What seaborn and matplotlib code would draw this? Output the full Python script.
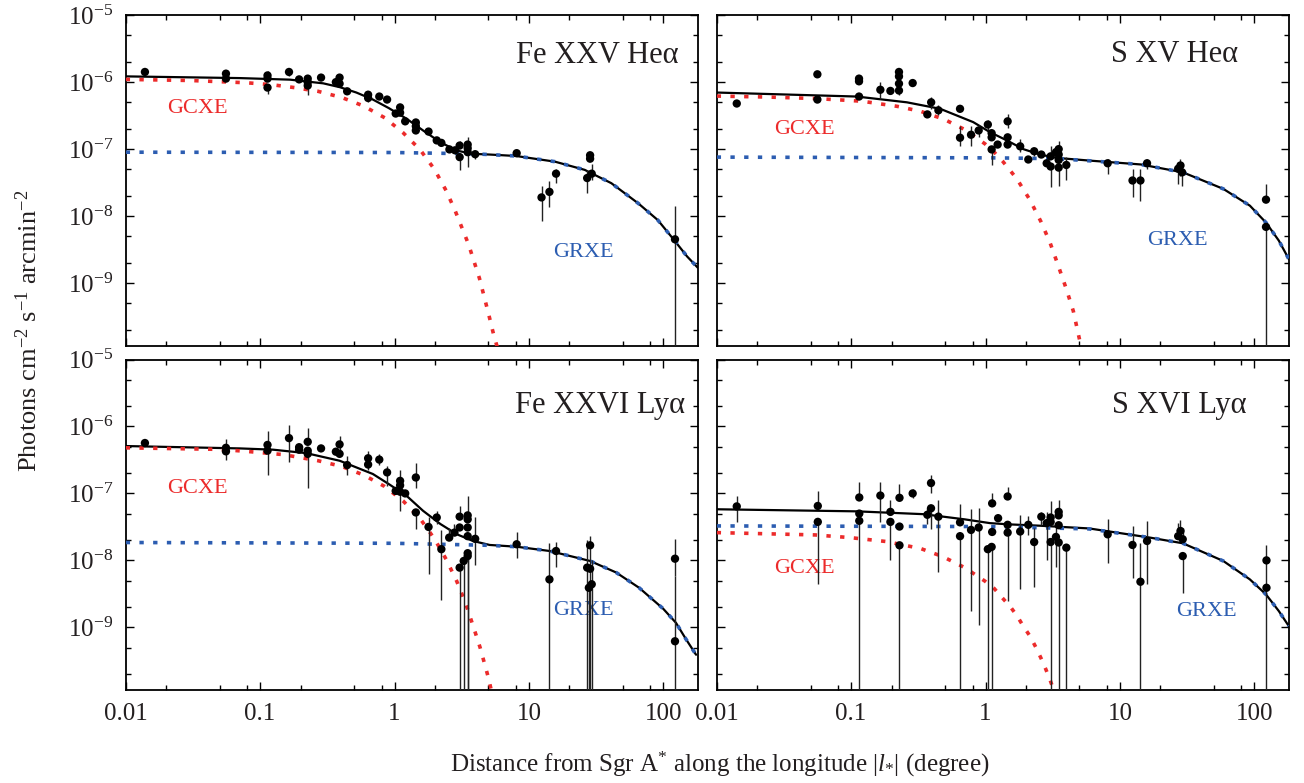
import numpy as np
import pandas as pd
import matplotlib
matplotlib.use("Agg")
import matplotlib.pyplot as plt
import seaborn as sns
from matplotlib.ticker import FixedLocator, FixedFormatter, NullFormatter

# ---------------- data ----------------
# Fe XXV He-alpha
fe25_l = [0.0139, 0.0557, 0.0557, 0.1135, 0.1135, 0.1135, 0.164, 0.195, 0.226, 0.226, 0.226,
          0.284, 0.366, 0.39, 0.39, 0.444, 0.636, 0.636, 0.77, 0.88, 1.02, 1.1, 1.1, 1.2,
          1.44, 1.44, 1.44, 1.79, 2.06, 2.23, 2.56, 2.82, 3.05, 3.05, 3.5, 3.5, 3.5, 3.98,
          8.1, 12.4, 14.2, 15.9, 27.1, 28.5, 28.5, 29.3, 122]
fe25_v = [1.42e-6, 1.34e-6, 1.13e-6, 1.26e-6, 1.13e-6, 8.3e-7, 1.42e-6, 1.1e-6, 1.13e-6, 1.0e-6, 8.9e-7,
          1.17e-6, 1.0e-6, 9.5e-7, 1.17e-6, 7.3e-7, 6.5e-7, 5.8e-7, 6.1e-7, 5.5e-7, 3.4e-7, 4.2e-7, 3.5e-7, 2.6e-7,
          2.5e-7, 2.2e-7, 1.9e-7, 1.83e-7, 1.35e-7, 1.24e-7, 9.9e-8, 9.6e-8, 1.13e-7, 7.6e-8, 1.17e-7, 1.03e-7, 9.0e-8, 8.4e-8,
          8.7e-8, 1.9e-8, 2.3e-8, 4.3e-8, 3.7e-8, 8.1e-8, 7.2e-8, 4.3e-8, 4.5e-9]
fe25_lo = [1.42e-6, 1.34e-6, 1.13e-6, 1.26e-6, 1.13e-6, 6.7e-7, 1.25e-6, 1.1e-6, 1.13e-6, 1.0e-6, 6.5e-7,
           1.17e-6, 1.0e-6, 9.5e-7, 1.17e-6, 7.3e-7, 6.5e-7, 5.0e-7, 6.1e-7, 5.5e-7, 3.4e-7, 4.2e-7, 3.5e-7, 2.6e-7,
           2.5e-7, 2.2e-7, 1.9e-7, 1.83e-7, 1.35e-7, 1.24e-7, 9.9e-8, 9.6e-8, 1.13e-7, 4.8e-8, 1.17e-7, 1.03e-7, 5.4e-8, 7.0e-8,
           8.7e-8, 8.5e-9, 1.36e-8, 3.1e-8, 2.25e-8, 8.1e-8, 7.2e-8, 3.5e-8, 1e-12]
fe25_hi = [1.42e-6, 1.34e-6, 1.13e-6, 1.45e-6, 1.13e-6, 8.3e-7, 1.6e-6, 1.1e-6, 1.13e-6, 1.0e-6, 8.9e-7,
           1.17e-6, 1.0e-6, 9.5e-7, 1.17e-6, 7.3e-7, 6.5e-7, 5.8e-7, 6.1e-7, 5.5e-7, 3.4e-7, 4.2e-7, 3.5e-7, 2.6e-7,
           2.5e-7, 2.2e-7, 1.9e-7, 1.83e-7, 1.35e-7, 1.24e-7, 9.9e-8, 9.6e-8, 1.3e-7, 7.6e-8, 1.5e-7, 1.03e-7, 9.0e-8, 9.5e-8,
           8.7e-8, 2.85e-8, 3.4e-8, 5.1e-8, 4.8e-8, 8.1e-8, 7.2e-8, 6.0e-8, 1.4e-8]
fe25_gc_l = [0.01, 0.03, 0.079, 0.12, 0.18, 0.27, 0.405, 0.59, 0.845, 1.16, 1.55, 1.98, 2.42, 2.83, 3.55, 4.28, 5.0, 5.5, 5.9]
fe25_gc_v = [1.1e-6, 1.06e-6, 9.8e-7, 9.2e-7, 8.3e-7, 7.3e-7, 5.9e-7, 4.4e-7, 2.94e-7, 1.75e-7, 9.8e-8, 5.0e-8, 2.4e-8,
             1.19e-8, 3.8e-9, 1.18e-9, 3.5e-10, 1.6e-10, 1.0e-10]
fe25_gr_l = [0.01, 1, 4, 8, 15.6, 26, 41, 65, 91, 120, 150, 180]
fe25_gr_v = [9.0e-8, 8.9e-8, 8.5e-8, 7.9e-8, 6.5e-8, 4.9e-8, 3.1e-8, 1.55e-8, 8.7e-9, 4.4e-9, 2.5e-9, 1.7e-9]
fe25_tot_l = [0.01, 0.071, 0.167, 0.295, 0.393, 0.52, 0.69, 0.906, 1.23, 1.63, 2.19, 2.9, 3.83, 5.1, 8, 15.6, 26, 41,
              65, 91, 120, 150, 180]
fe25_tot_v = [1.22e-6, 1.15e-6, 1.09e-6, 9.6e-7, 8.4e-7, 7.0e-7, 5.5e-7, 4.1e-7, 2.84e-7, 1.9e-7, 1.27e-7, 9.5e-8,
              8.5e-8, 8.3e-8, 7.9e-8, 6.5e-8, 4.9e-8, 3.1e-8, 1.55e-8, 8.7e-9, 4.4e-9, 2.5e-9, 1.7e-9]

# S XV He-alpha
s15_l = [0.0141, 0.0561, 0.0561, 0.1145, 0.1145, 0.1145, 0.165, 0.196, 0.227, 0.227, 0.227, 0.227, 0.287,
         0.369, 0.394, 0.446, 0.646, 0.646, 0.78, 0.889, 1.04, 1.11, 1.11, 1.11, 1.23, 1.46, 1.46, 1.46,
         1.81, 2.08, 2.3, 2.6, 2.85, 3.05, 3.05, 3.34, 3.5, 3.5, 3.5, 3.5, 3.99, 8.1, 12.4, 14.2, 15.9,
         27.1, 28.2, 29.0, 122, 122]
s15_v = [4.8e-7, 1.31e-6, 5.5e-7, 1.13e-6, 1.03e-6, 6.1e-7, 7.7e-7, 7.4e-7, 1.42e-6, 1.22e-6, 9.5e-7, 7.5e-7, 9.7e-7,
         3.3e-7, 5.0e-7, 3.8e-7, 4.0e-7, 1.48e-7, 1.64e-7, 1.9e-7, 2.33e-7, 1.73e-7, 1.5e-7, 9.9e-8, 1.17e-7, 2.6e-7, 1.5e-7, 1.17e-7,
         1.1e-7, 7.0e-8, 9.3e-8, 8.3e-8, 6.15e-8, 7.8e-8, 5.5e-8, 9.0e-8, 1.0e-7, 8.3e-8, 6.9e-8, 5.3e-8, 5.8e-8, 6.15e-8,
         3.4e-8, 3.4e-8, 6.15e-8, 5.1e-8, 5.7e-8, 4.5e-8, 1.76e-8, 6.9e-9]
s15_lo = [4.8e-7, 1.31e-6, 5.5e-7, 1.13e-6, 1.03e-6, 6.1e-7, 5.7e-7, 7.4e-7, 1.42e-6, 1.22e-6, 9.5e-7, 6.5e-7, 9.7e-7,
          3.3e-7, 4.0e-7, 3.2e-7, 4.0e-7, 1.1e-7, 1.1e-7, 1.5e-7, 1.9e-7, 1.73e-7, 1.5e-7, 5.7e-8, 1.17e-7, 2.1e-7, 1.5e-7, 1.17e-7,
          9.0e-8, 7.0e-8, 8.0e-8, 8.3e-8, 6.15e-8, 7.8e-8, 2.7e-8, 9.0e-8, 1.0e-7, 8.3e-8, 6.9e-8, 2.85e-8, 3.5e-8, 4.2e-8,
          1.9e-8, 1.7e-8, 5.0e-8, 3.0e-8, 4.0e-8, 2.8e-8, 1.76e-8, 1e-12]
s15_hi = [4.8e-7, 1.31e-6, 5.5e-7, 1.3e-6, 1.03e-6, 6.1e-7, 1.0e-6, 7.4e-7, 1.6e-6, 1.22e-6, 9.5e-7, 7.5e-7, 9.7e-7,
          3.3e-7, 6.0e-7, 4.5e-7, 4.0e-7, 2.2e-7, 2.2e-7, 2.3e-7, 2.7e-7, 1.73e-7, 1.5e-7, 9.9e-8, 1.17e-7, 3.4e-7, 1.5e-7, 1.17e-7,
          1.4e-7, 7.0e-8, 1.05e-7, 8.3e-8, 6.15e-8, 1.1e-7, 5.5e-8, 9.0e-8, 1.3e-7, 8.3e-8, 6.9e-8, 5.3e-8, 7.5e-8, 7.2e-8,
          5.1e-8, 5.1e-8, 7.2e-8, 6.5e-8, 7.0e-8, 5.5e-8, 3.0e-8, 6.9e-9]
s15_gc_l = [0.01, 0.0236, 0.054, 0.12, 0.221, 0.33, 0.49, 0.70, 0.99, 1.16, 1.34, 1.71, 2.14, 2.58, 3.02, 3.48, 3.97,
            4.5, 4.91, 5.15]
s15_gc_v = [6.2e-7, 6.0e-7, 5.7e-7, 5.2e-7, 4.35e-7, 3.66e-7, 2.8e-7, 1.96e-7, 1.2e-7, 9.0e-8, 6.6e-8, 3.6e-8, 1.74e-8,
            8.3e-9, 4.0e-9, 1.8e-9, 8.4e-10, 3.8e-10, 1.7e-10, 1.1e-10]
s15_gr_l = [0.01, 1.2, 3.37, 5.9, 14.3, 29.4, 58.7, 92.6, 122, 152, 180]
s15_gr_v = [7.6e-8, 7.4e-8, 7.2e-8, 6.7e-8, 5.9e-8, 4.5e-8, 2.55e-8, 1.43e-8, 8.0e-9, 4.3e-9, 2.3e-9]
s15_tot_l = [0.01, 0.11, 0.26, 0.46, 0.81, 1.08, 1.44, 1.91, 2.54, 3.37, 5.9, 14.3, 29.4, 58.7, 92.6, 122, 152, 180]
s15_tot_v = [7.0e-7, 6.1e-7, 5.0e-7, 4.0e-7, 2.53e-7, 1.79e-7, 1.35e-7, 1.0e-7, 8.3e-8, 7.4e-8, 6.75e-8, 5.9e-8,
             4.5e-8, 2.55e-8, 1.43e-8, 8.0e-9, 4.3e-9, 2.3e-9]

# Fe XXVI Ly-alpha
fe26_l = [0.0139, 0.0557, 0.0557, 0.1135, 0.1135, 0.164, 0.195, 0.195, 0.226, 0.226, 0.226, 0.284, 0.366, 0.39,
          0.39, 0.444, 0.636, 0.636, 0.77, 0.88, 1.02, 1.1, 1.1, 1.1, 1.2, 1.44, 1.44, 1.79, 2.06, 2.23, 2.55,
          2.79, 3.05, 3.05, 3.05, 3.27, 3.5, 3.5, 3.5, 3.5, 3.5, 3.5, 3.98, 8.1, 14.2, 15.9, 27.1, 27.9, 28.5,
          28.5, 29.3, 122, 122]
fe26_v = [5.66e-7, 4.8e-7, 4.25e-7, 5.3e-7, 4.35e-7, 6.7e-7, 4.9e-7, 4.5e-7, 5.9e-7, 4.35e-7, 3.9e-7, 4.7e-7, 4.2e-7, 3.9e-7,
          5.4e-7, 2.65e-7, 3.35e-7, 2.7e-7, 3.2e-7, 2.06e-7, 1.09e-7, 1.54e-7, 1.32e-7, 1.06e-7, 1.0e-7, 1.73e-7, 5.2e-8,
          3.16e-8, 4.37e-8, 1.47e-8, 2.19e-8, 2.6e-8, 4.5e-8, 3.1e-8, 7.8e-9, 9.8e-9, 4.7e-8, 4.1e-8, 3.1e-8, 2.3e-8,
          1.28e-8, 1.16e-8, 2.1e-8, 1.74e-8, 5.2e-9, 1.38e-8, 7.8e-9, 3.9e-9, 1.68e-8, 7.5e-9, 4.4e-9, 1.06e-8, 6.2e-10]
fe26_lo = [5.66e-7, 4.8e-7, 3.2e-7, 5.3e-7, 1.9e-7, 2.9e-7, 4.9e-7, 4.5e-7, 5.9e-7, 4.35e-7, 1.2e-7, 4.7e-7, 4.2e-7, 3.9e-7,
           4.5e-7, 1.9e-7, 3.35e-7, 2.2e-7, 2.7e-7, 1.3e-7, 1.09e-7, 1.54e-7, 1.32e-7, 5.5e-8, 1.0e-7, 1.2e-7, 2.9e-8,
           6.3e-9, 3.5e-8, 2.6e-9, 2.19e-8, 2.6e-8, 4.5e-8, 3.1e-8, 1e-12, 1e-12, 4.7e-8, 4.1e-8, 3.1e-8, 2.3e-8,
           1e-12, 1e-12, 8.4e-9, 1.1e-8, 1e-12, 8.0e-9, 1e-12, 1e-12, 1e-12, 7.5e-9, 1e-12, 5.8e-9, 1e-12]
fe26_hi = [5.66e-7, 6.4e-7, 4.25e-7, 8.6e-7, 4.35e-7, 1.05e-6, 4.9e-7, 4.5e-7, 9.4e-7, 4.35e-7, 3.9e-7, 4.7e-7, 4.2e-7, 3.9e-7,
           7.3e-7, 3.6e-7, 4.35e-7, 2.7e-7, 3.9e-7, 2.6e-7, 1.09e-7, 2.2e-7, 1.32e-7, 1.06e-7, 1.0e-7, 2.8e-7, 5.2e-8,
           4.4e-8, 5.5e-8, 2.8e-8, 3.0e-8, 3.5e-8, 6.6e-8, 3.1e-8, 7.8e-9, 9.8e-9, 9.3e-8, 4.1e-8, 3.1e-8, 2.3e-8,
           1.28e-8, 1.16e-8, 4.4e-8, 2.7e-8, 1.8e-8, 1.9e-8, 2.0e-8, 3.9e-9, 2.3e-8, 7.5e-9, 1.0e-8, 2.1e-8, 5.8e-9]
fe26_gc_l = [0.01, 0.05, 0.079, 0.149, 0.27, 0.405, 0.59, 0.845, 1.16, 1.55, 1.98, 2.42, 2.9, 3.35, 3.83, 4.33, 4.98, 5.3]
fe26_gc_v = [4.8e-7, 4.55e-7, 4.25e-7, 3.8e-7, 3.08e-7, 2.53e-7, 1.88e-7, 1.27e-7, 7.7e-8, 4.2e-8, 2.1e-8, 1.04e-8,
             4.9e-9, 2.4e-9, 1.07e-9, 5.0e-10, 1.8e-10, 1.05e-10]
fe26_gr_l = [0.01, 1, 5, 8.1, 14.3, 28.5, 44.5, 66, 99.6, 124, 147, 175]
fe26_gr_v = [1.85e-8, 1.8e-8, 1.68e-8, 1.6e-8, 1.38e-8, 9.8e-9, 6.6e-9, 3.9e-9, 1.9e-9, 1.17e-9, 6.7e-10, 3.9e-10]
fe26_tot_l = [0.01, 0.071, 0.125, 0.22, 0.39, 0.69, 0.906, 1.23, 1.63, 2.19, 2.9, 3.83, 5.1, 8.1, 14.3, 28.5, 44.5,
              66, 99.6, 124, 147, 175]
fe26_tot_v = [5.1e-7, 4.7e-7, 4.5e-7, 4.0e-7, 3.08e-7, 1.95e-7, 1.38e-7, 9.2e-8, 5.5e-8, 3.5e-8, 2.46e-8, 1.95e-8,
              1.7e-8, 1.6e-8, 1.38e-8, 9.8e-9, 6.6e-9, 3.9e-9, 1.9e-9, 1.17e-9, 6.7e-10, 3.9e-10]

# S XVI Ly-alpha
s16_l = [0.0141, 0.0565, 0.0565, 0.115, 0.115, 0.115, 0.165, 0.196, 0.196, 0.229, 0.229, 0.229, 0.287, 0.369,
         0.393, 0.393, 0.446, 0.646, 0.646, 0.78, 0.889, 1.04, 1.11, 1.12, 1.12, 1.24, 1.46, 1.46, 1.46, 1.81,
         2.08, 2.3, 2.6, 2.85, 3.05, 3.05, 3.05, 3.34, 3.5, 3.5, 3.5, 3.5, 3.99, 8.1, 12.4, 14.2, 15.9, 27.1,
         28.2, 29.3, 29.3, 123, 123]
s16_v = [6.4e-8, 6.5e-8, 3.76e-8, 8.7e-8, 5.0e-8, 3.9e-8, 9.3e-8, 5.3e-8, 3.76e-8, 8.6e-8, 3.2e-8, 1.68e-8, 1.0e-7, 4.8e-8,
         6.0e-8, 1.43e-7, 4.5e-8, 3.7e-8, 2.3e-8, 2.85e-8, 3.1e-8, 1.47e-8, 1.59e-8, 7.1e-8, 2.66e-8, 4.27e-8, 9.0e-8,
         3.4e-8, 2.6e-8, 2.7e-8, 3.4e-8, 1.88e-8, 4.5e-8, 3.6e-8, 4.37e-8, 3.76e-8, 1.88e-8, 2.24e-8, 5.3e-8, 4.7e-8,
         3.35e-8, 1.85e-8, 1.55e-8, 2.45e-8, 1.7e-8, 4.8e-9, 1.95e-8, 2.3e-8, 2.75e-8, 2.07e-8, 1.16e-8, 1.0e-8, 3.9e-9]
s16_lo = [3.7e-8, 6.5e-8, 4.5e-9, 8.7e-8, 5.0e-8, 1e-12, 3.7e-8, 5.3e-8, 1.03e-8, 8.6e-8, 3.2e-8, 1e-12, 8.6e-8, 3.5e-8,
          2.9e-8, 1.0e-7, 6.8e-9, 3.7e-8, 1e-12, 1.75e-9, 1.1e-9, 1e-12, 1e-12, 7.1e-8, 2.66e-8, 4.27e-8, 9.0e-8,
          3.4e-8, 2.5e-9, 3.7e-9, 2.4e-8, 4.0e-9, 3.4e-8, 1.0e-8, 4.37e-8, 3.76e-8, 1e-12, 8.0e-9, 5.3e-8, 4.7e-8,
          3.35e-8, 1e-12, 1e-12, 9.0e-9, 5.4e-9, 1e-12, 4.5e-9, 2.3e-8, 2.75e-8, 2.07e-8, 3.3e-9, 1.0e-8, 1e-12]
s16_hi = [9.0e-8, 1.1e-7, 3.76e-8, 1.5e-7, 5.0e-8, 3.9e-8, 1.5e-7, 8.0e-8, 3.76e-8, 1.4e-7, 3.2e-8, 1.68e-8, 1.15e-7, 6.0e-8,
          6.0e-8, 1.9e-7, 8.1e-8, 7.0e-8, 2.3e-8, 5.8e-8, 6.0e-8, 1.47e-8, 1.59e-8, 1.0e-7, 2.66e-8, 4.27e-8, 1.24e-7,
          3.4e-8, 2.6e-8, 4.7e-8, 4.6e-8, 3.0e-8, 5.2e-8, 5.2e-8, 7.6e-8, 3.76e-8, 1.88e-8, 3.6e-8, 7.9e-8, 4.7e-8,
          3.35e-8, 1.85e-8, 1.55e-8, 4.1e-8, 3.3e-8, 1.8e-8, 3.9e-8, 3.6e-8, 4.0e-8, 3.0e-8, 1.16e-8, 1.7e-8, 1.0e-8]
s16_gc_l = [0.01, 0.054, 0.098, 0.184, 0.33, 0.48, 0.70, 0.99, 1.16, 1.33, 1.53, 1.72, 1.91, 2.14, 2.36, 2.58, 2.8,
            3.0, 3.3]
s16_gc_v = [2.6e-8, 2.4e-8, 2.19e-8, 1.91e-8, 1.5e-8, 1.14e-8, 7.8e-9, 4.9e-9, 3.8e-9, 2.77e-9, 2.03e-9, 1.47e-9,
            1.04e-9, 7.4e-10, 5.1e-10, 3.5e-10, 2.4e-10, 1.7e-10, 1.0e-10]
s16_gr_l = [0.01, 1.08, 5.9, 16.7, 29.4, 58.7, 92.6, 122, 152, 180]
s16_gr_v = [3.27e-8, 3.2e-8, 2.95e-8, 2.19e-8, 1.8e-8, 9.8e-9, 5.2e-9, 3.1e-9, 1.75e-9, 1.05e-9]
s16_tot_l = [0.01, 0.11, 0.345, 0.7, 1.08, 1.5, 2.5, 5.9, 16.7, 29.4, 58.7, 92.6, 122, 152, 180]
s16_tot_v = [5.8e-8, 5.4e-8, 4.9e-8, 4.1e-8, 3.6e-8, 3.45e-8, 3.3e-8, 3.0e-8, 2.19e-8, 1.8e-8, 9.8e-9, 5.2e-9,
             3.1e-9, 1.75e-9, 1.05e-9]

panel_titles = ["Fe XXV He\u03b1", "S XV He\u03b1", "Fe XXVI Ly\u03b1", "S XVI Ly\u03b1"]
x_tick_values = [0.01, 0.1, 1, 10, 100]
x_tick_labels = ["0.01", "0.1", "1", "10", "100"]
y_tick_values = [1e-5, 1e-6, 1e-7, 1e-8, 1e-9]
y_tick_labels = ["$10^{-5}$", "$10^{-6}$", "$10^{-7}$", "$10^{-8}$", "$10^{-9}$"]

# ---------------- style ----------------
sns.set_style("ticks")
plt.rcParams['font.family'] = ['Liberation Serif', 'DejaVu Serif']
plt.rcParams['mathtext.fontset'] = 'custom'
plt.rcParams['mathtext.rm'] = 'Liberation Serif'
plt.rcParams['mathtext.it'] = 'Liberation Serif:italic'
plt.rcParams['mathtext.bf'] = 'Liberation Serif:bold'

TXT = '#231f20'
RED = '#ec2b2b'
BLUE = '#2c5db1'

fig = plt.figure(figsize=(13.04, 7.83), dpi=100)

W = 572.0 / 1304
H = 330.5 / 783
lefts = [125.7 / 1304, 716.7 / 1304]
bottoms = [1 - 345.7 / 783, 1 - 690.0 / 783]

panels = [
    dict(pos=(0, 0), l=fe25_l, v=fe25_v, lo=fe25_lo, hi=fe25_hi,
         gc=(fe25_gc_l, fe25_gc_v), gr=(fe25_gr_l, fe25_gr_v), tot=(fe25_tot_l, fe25_tot_v),
         title=panel_titles[0], tpos=(0.967, 0.856), gcpos=(0.072, 0.703), grpos=(0.7465, 0.269)),
    dict(pos=(0, 1), l=s15_l, v=s15_v, lo=s15_lo, hi=s15_hi,
         gc=(s15_gc_l, s15_gc_v), gr=(s15_gr_l, s15_gr_v), tot=(s15_tot_l, s15_tot_v),
         title=panel_titles[1], tpos=(0.911, 0.857), gcpos=(0.1006, 0.642), grpos=(0.753, 0.3045)),
    dict(pos=(1, 0), l=fe26_l, v=fe26_v, lo=fe26_lo, hi=fe26_hi,
         gc=(fe26_gc_l, fe26_gc_v), gr=(fe26_gr_l, fe26_gr_v), tot=(fe26_tot_l, fe26_tot_v),
         title=panel_titles[2], tpos=(0.978, 0.838), gcpos=(0.072, 0.597), grpos=(0.7476, 0.228)),
    dict(pos=(1, 1), l=s16_l, v=s16_v, lo=s16_lo, hi=s16_hi,
         gc=(s16_gc_l, s16_gc_v), gr=(s16_gr_l, s16_gr_v), tot=(s16_tot_l, s16_tot_v),
         title=panel_titles[3], tpos=(0.927, 0.838), gcpos=(0.1006, 0.354), grpos=(0.8026, 0.225)),
]

x_minor = [m * d for d in [0.01, 0.1, 1, 10, 100] for m in (2, 5, 8) if m * d < 180]
y_minor = [m * d for d in [1e-10, 1e-9, 1e-8, 1e-7, 1e-6] for m in (2, 5)]

dotted = (0, (1.2, 2.6))

for p in panels:
    r, c = p['pos']
    ax = fig.add_axes([lefts[c], bottoms[r], W, H])
    ax.set_xscale('log')
    ax.set_yscale('log')

    tot = pd.DataFrame({'l': p['tot'][0], 'v': p['tot'][1]})
    gc = pd.DataFrame({'l': p['gc'][0], 'v': p['gc'][1]})
    gr = pd.DataFrame({'l': p['gr'][0], 'v': p['gr'][1]})
    pts = pd.DataFrame({'l': p['l'], 'v': p['v'], 'lo': p['lo'], 'hi': p['hi']})

    sns.lineplot(data=tot, x='l', y='v', color='black', lw=1.6, estimator=None, sort=False, ax=ax, zorder=2)
    sns.lineplot(data=gc, x='l', y='v', color=RED, lw=2.6, linestyle=dotted, estimator=None, sort=False,
                 ax=ax, zorder=3)
    sns.lineplot(data=gr, x='l', y='v', color=BLUE, lw=2.6, linestyle=dotted, estimator=None, sort=False,
                 ax=ax, zorder=3)
    ax.vlines(pts['l'], pts['lo'], pts['hi'], color='#222222', lw=1.0, zorder=4)
    sns.scatterplot(data=pts, x='l', y='v', color='black', s=36, edgecolor='none', ax=ax, zorder=5)

    ax.set_xlim(0.01, 180)
    ax.set_ylim(1.16e-10, 1e-5)

    ax.xaxis.set_major_locator(FixedLocator(x_tick_values))
    ax.xaxis.set_minor_locator(FixedLocator(x_minor))
    ax.yaxis.set_major_locator(FixedLocator(y_tick_values))
    ax.yaxis.set_minor_locator(FixedLocator(y_minor))
    ax.xaxis.set_minor_formatter(NullFormatter())
    ax.yaxis.set_minor_formatter(NullFormatter())
    if r == 1:
        ax.xaxis.set_major_formatter(FixedFormatter(x_tick_labels))
    else:
        ax.xaxis.set_major_formatter(NullFormatter())
    if c == 0:
        ax.yaxis.set_major_formatter(FixedFormatter(y_tick_labels))
    else:
        ax.yaxis.set_major_formatter(NullFormatter())

    ax.tick_params(which='both', direction='in', top=True, right=True, colors='black',
                   labelcolor=TXT, labelsize=18, width=1.0)
    ax.tick_params(which='major', length=6, pad=9)
    ax.tick_params(which='minor', length=3.5)
    for s in ax.spines.values():
        s.set_linewidth(1.3)
        s.set_color('black')
    ax.set_xlabel('')
    ax.set_ylabel('')

    ax.text(*p['tpos'], p['title'], transform=ax.transAxes, ha='right', va='baseline',
            fontsize=22, color=TXT)
    ax.text(*p['gcpos'], "GCXE", transform=ax.transAxes, ha='left', va='baseline',
            fontsize=16, color=RED)
    ax.text(*p['grpos'], "GRXE", transform=ax.transAxes, ha='left', va='baseline',
            fontsize=16, color=BLUE)

fig.text(0.022, 0.578, "Photons cm$^{-2}$ s$^{-1}$ arcmin$^{-2}$", rotation=90, ha='center', va='center',
         fontsize=19, color=TXT)
fig.text(0.552, 0.014, "Distance from Sgr A$^{*}$ along the longitude |$l_{*}$| (degree)", ha='center',
         va='baseline', fontsize=18, color=TXT)

fig.savefig("out.png", dpi=100)
